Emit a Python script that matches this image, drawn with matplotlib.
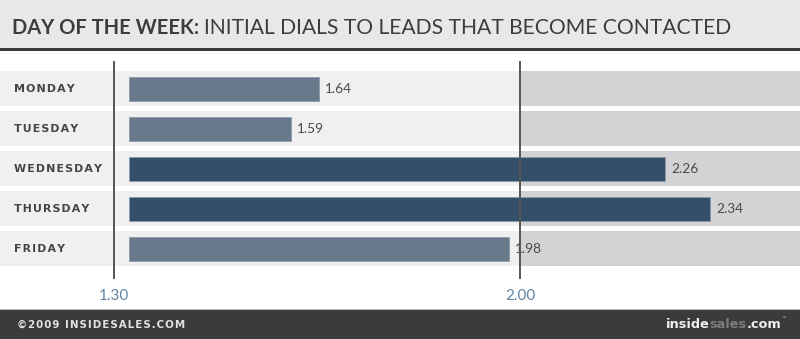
import matplotlib.pyplot as plt
import matplotlib.transforms as mtransforms
from matplotlib.patches import Rectangle

days = ['MONDAY', 'TUESDAY', 'WEDNESDAY', 'THURSDAY', 'FRIDAY']
dials = [1.64, 1.59, 2.26, 2.34, 1.98]
highlight = [False, False, True, True, False]
axis_ticks = [1.30, 2.00]
tick_labels = ['1.30', '2.00']

W, H = 800, 339
fig = plt.figure(figsize=(W / 100, H / 100), dpi=100)
fig.patch.set_facecolor('white')
renderer = fig.canvas.get_renderer()


def px_box(x0, y0, x1, y1):
    # pixel box (top-left origin) -> figure fraction rect
    return [x0 / W, 1 - y1 / H, (x1 - x0) / W, (y1 - y0) / H]


def spaced(s, sep='\u200a'):
    return sep.join(s)


def text_run(x, y, parts, **kw):
    # draw consecutive text pieces, each starting where the previous ended
    for s, style in parts:
        t = fig.text(x / W, 1 - y / H, s, va='center', ha='left', **kw, **style)
        x = t.get_window_extent(renderer).x1
    return x


# header band
fig.patches.append(Rectangle((0, 1 - 48 / H), 1, 48 / H, transform=fig.transFigure,
                             facecolor='#e6e8ea', edgecolor='none', zorder=0))
fig.patches.append(Rectangle((0, 1 - 51 / H), 1, 3 / H, transform=fig.transFigure,
                             facecolor='#3a3a3a', edgecolor='none', zorder=1))
text_run(12, 28, [('DAY OF THE WEEK: ', {'fontweight': 'bold', 'fontsize': 14.5}),
                  ('INITIAL DIALS TO LEADS THAT BECOME CONTACTED', {'fontsize': 15.2})],
         fontfamily='Lato', color='#3d3d3d')

# footer band
fig.patches.append(Rectangle((0, 0), 1, 29 / H, transform=fig.transFigure,
                             facecolor='#3b3b3b', edgecolor='none', zorder=0))
fig.patches.append(Rectangle((0, 29 / H), 1, 1.5 / H, transform=fig.transFigure,
                             facecolor='#b8b8b8', edgecolor='none', zorder=0))
fig.text(17 / W, 1 - 324.5 / H, spaced('©2009 INSIDESALES.COM'), fontfamily='DejaVu Sans',
         fontweight='bold', fontsize=7.4, color='#e2e2e2', va='center', ha='left')
end = text_run(666, 325, [('inside', {'color': '#f0f0f0'}), ('sales', {'color': '#7c7c7c'}),
                          ('.com', {'color': '#f0f0f0'})],
               fontfamily='DejaVu Sans', fontweight='bold', fontsize=9.3)
fig.text(end / W, 1 - 319 / H, '™', fontfamily='DejaVu Sans', fontsize=3.5,
         color='#f0f0f0', va='center', ha='left')

# chart area: bars start at 1.30 (x=129px), 2.00 sits at x=520px
ax = fig.add_axes(px_box(0, 62, 800, 278))
scale = (520 - 129) / (2.00 - 1.30)
xmin = 1.30 - 129 / scale
xmax = 1.30 + (W - 129) / scale
ax.set_xlim(xmin, xmax)
pitch = 40.0
y0 = 88.7
ax.set_ylim((278 - y0) / pitch, (62 - y0) / pitch)
ax.axis('off')

rows = list(range(len(days)))
ax.barh(rows, [2.00 - xmin] * len(rows), left=xmin, height=0.875,
        color='#f0f0f0', edgecolor='none', zorder=0)
ax.barh(rows, [xmax - 2.00] * len(rows), left=2.00, height=0.875,
        color='#d3d3d5', edgecolor='none', zorder=0)

colors = ['#344f6a' if h else '#67798a' for h in highlight]
ax.barh(rows, [v - 1.30 for v in dials], left=1.30, height=0.6,
        color=colors, edgecolor='#8a9aa8', linewidth=0.6, zorder=2)

label_tr = mtransforms.blended_transform_factory(ax.transAxes, ax.transData)
for i, (d, v) in enumerate(zip(days, dials)):
    ax.text(14 / W, i, spaced(d), transform=label_tr,
            fontfamily='DejaVu Sans', fontweight='bold', fontsize=7.9, color='#454545',
            va='center', ha='left')
    ax.annotate(f'{v:.2f}', (v, i), xytext=(6, 0), textcoords='offset pixels',
                fontfamily='Lato', fontsize=9.8, color='#4a4a4a', va='center', ha='left', zorder=3)

# reference lines; the 1.30 line sits a little left of the bar baseline
for t, lab in zip(axis_ticks, tick_labels):
    shift = -15 if t == axis_ticks[0] else 0
    tr = mtransforms.blended_transform_factory(
        mtransforms.offset_copy(ax.transData, fig=fig, x=shift, units='dots'), ax.transAxes)
    ax.plot([t, t], [0, 1], transform=tr, color='#555555', lw=1.4, zorder=4, clip_on=False)
    ax.text(t, -18 / 216, lab, transform=tr, fontfamily='Lato', fontsize=11,
            color='#5f84a5', ha='center', va='center', clip_on=False)

fig.savefig('out.png', dpi=100)
